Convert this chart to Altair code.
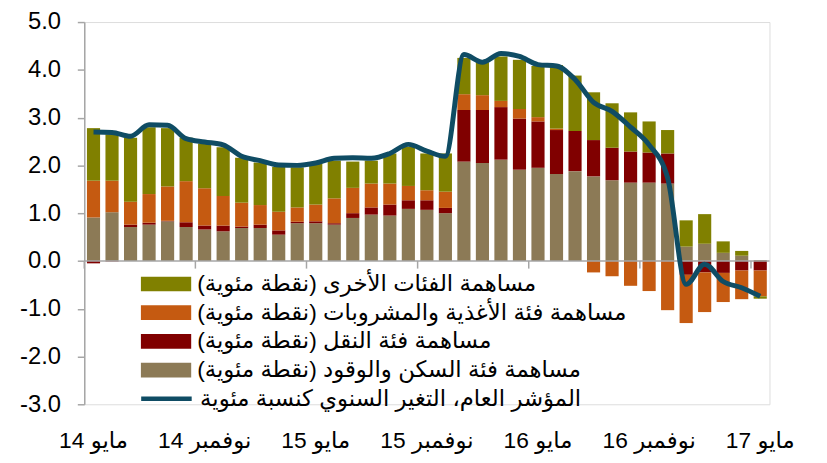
import altair as alt
import pandas as pd

# ---------------- data ----------------
month_names = ["يناير", "فبراير", "مارس", "أبريل", "مايو", "يونيو",
               "يوليو", "أغسطس", "سبتمبر", "أكتوبر", "نوفمبر", "ديسمبر"]
months = []
_y, _m = 14, 4
for _i in range(37):
    months.append(f"{month_names[_m]} {_y}")
    _m += 1
    if _m == 12:
        _m, _y = 0, _y + 1
shown_labels = months[::6]

housing = [0.91, 1.02, 0.71, 0.76, 0.83, 0.71, 0.66, 0.62, 0.69, 0.69, 0.55, 0.79,
           0.79, 0.76, 0.90, 0.97, 0.95, 1.09, 1.07, 1.00, 2.08, 2.05, 2.12, 1.91,
           1.95, 1.82, 1.88, 1.77, 1.69, 1.64, 1.64, 1.62, 0.30, 0.36, 0.17, 0.11, 0.02]
transport = [-0.05, -0.01, 0.05, 0.04, 0.01, 0.10, 0.08, 0.12, 0.03, 0.07, 0.09, 0.03,
             0.04, 0.03, 0.10, 0.15, 0.23, 0.18, 0.20, 0.11, 1.08, 1.11, 1.10, 1.07,
             0.97, 0.92, 0.84, 0.76, 0.68, 0.65, 0.63, 0.63, -0.29, -0.24, -0.25, -0.20, -0.20]
food = [0.77, 0.66, 0.48, 0.60, 0.72, 0.86, 0.78, 0.62, 0.50, 0.41, 0.39, 0.30,
        0.35, 0.52, 0.53, 0.50, 0.44, 0.30, 0.21, 0.34, 0.33, 0.31, 0.13, 0.20,
        0.09, 0.03, 0.00, -0.24, -0.32, -0.52, -0.63, -1.03, -1.01, -0.83, -0.61, -0.60, -0.54]
other = [1.10, 0.97, 1.34, 1.40, 1.22, 0.91, 0.94, 1.02, 0.94, 0.89, 0.94, 0.84,
         0.87, 0.79, 0.55, 0.48, 0.63, 0.82, 0.77, 0.80, 0.76, 0.69, 0.93, 1.03,
         1.07, 1.33, 1.16, 1.00, 0.93, 0.82, 0.65, 0.49, 0.55, 0.62, 0.24, 0.10, -0.05]
cpi = [2.70, 2.69, 2.61, 2.85, 2.84, 2.56, 2.49, 2.43, 2.19, 2.10, 2.01, 2.00,
       2.05, 2.15, 2.16, 2.15, 2.25, 2.44, 2.30, 2.19, 4.32, 4.16, 4.34, 4.28,
       4.11, 4.08, 3.80, 3.32, 3.13, 2.80, 2.43, 1.74, -0.49, -0.07, -0.43, -0.56, -0.74]

RLM = "\u200f"
S_OTHER = "مساهمة الفئات الأخرى (نقطة مئوية)" + RLM
S_FOOD = "مساهمة فئة الأغذية والمشروبات (نقطة مئوية)" + RLM
S_TRANS = "مساهمة فئة النقل (نقطة مئوية)" + RLM
S_HOUSE = "مساهمة فئة السكن والوقود (نقطة مئوية)" + RLM
S_LINE = "المؤشر العام، التغير السنوي كنسبة مئوية" + RLM

series_names = [S_OTHER, S_FOOD, S_TRANS, S_HOUSE]
series_colors = ["#808000", "#C55A11", "#800000", "#8C7A56"]
stack_order = {S_HOUSE: 0, S_TRANS: 1, S_FOOD: 2, S_OTHER: 3}
series_values = {S_HOUSE: housing, S_TRANS: transport, S_FOOD: food, S_OTHER: other}

rows = []
for name, vals in series_values.items():
    for mo, v in zip(months, vals):
        rows.append({"month": mo, "series": name, "value": v, "ord": stack_order[name]})
bar_df = pd.DataFrame(rows)
line_df = pd.DataFrame({"month": months, "cpi": cpi, "series": S_LINE})
zero_df = pd.DataFrame({"v": [0.0]})
tick_df = pd.DataFrame({"month": shown_labels, "t0": 0.0, "t1": -0.16})

FONT = "Liberation Sans, Arial, DejaVu Sans"
AX = "#A6A6A6"

x_enc = alt.X(
    "month:N",
    scale=alt.Scale(domain=months, paddingInner=0.29, paddingOuter=0.145),
    axis=alt.Axis(values=shown_labels, title=None, domain=False, ticks=False,
                  labelAngle=0, labelFontSize=23, labelPadding=26,
                  labelColor="black", labelFont=FONT, labelOverlap=False),
)

y_enc = alt.Y(
    "value:Q",
    stack="zero",
    scale=alt.Scale(domain=[-3, 5], nice=False, zero=False),
    axis=alt.Axis(values=[-3, -2, -1, 0, 1, 2, 3, 4, 5], title=None, grid=False,
                  domainColor=AX, domainWidth=1.5, tickColor=AX, tickWidth=1.5,
                  tickSize=7, labelPadding=17, labelFontSize=24, labelColor="black",
                  labelFont=FONT,
                  labelExpr="replace(format(datum.value, '.1f'), '\u2212', '-')"),
)

bars = alt.Chart(bar_df).mark_bar().encode(
    x=x_enc,
    y=y_enc,
    fill=alt.Fill(
        "series:N",
        scale=alt.Scale(domain=series_names, range=series_colors),
        legend=alt.Legend(title=None, orient="none", legendX=57, legendY=250,
                          symbolType="M-1,-0.29H1V0.29H-1Z", symbolSize=2601,
                          symbolStrokeWidth=0, labelFontSize=23, labelLimit=800,
                          labelFont=FONT, labelColor="black", labelOffset=6,
                          clipHeight=29, rowPadding=0, padding=0),
    ),
    order=alt.Order("ord:Q"),
)

zero_line = alt.Chart(zero_df).mark_rule(color=AX, strokeWidth=1.5).encode(
    y=alt.Y("v:Q")
)

x_ticks = alt.Chart(tick_df).mark_rule(color=AX, strokeWidth=1.5, xOffset=-2.7).encode(
    x=alt.X("month:N", bandPosition=0),
    y=alt.Y("t0:Q"),
    y2="t1:Q",
)

line = alt.Chart(line_df).mark_line(strokeWidth=5, interpolate="monotone").encode(
    x=alt.X("month:N"),
    y=alt.Y("cpi:Q"),
    stroke=alt.Stroke(
        "series:N",
        scale=alt.Scale(domain=[S_LINE], range=["#0F4C64"]),
        legend=alt.Legend(title=None, orient="none", legendX=55, legendY=366,
                          symbolType="stroke", symbolSize=2601, symbolStrokeWidth=4.5,
                          labelFontSize=23, labelLimit=800, labelFont=FONT,
                          labelColor="black", labelOffset=6, clipHeight=29, padding=0),
    ),
)

chart = alt.layer(bars, zero_line, x_ticks, line).properties(
    width=692,
    height=386,
    padding={"left": 77, "top": 12, "right": 50, "bottom": 48},
    autosize=alt.AutoSizeParams(type="none"),
).configure_view(stroke=None).configure(font=FONT)

chart.save("out.html", embed_options={"renderer": "svg", "actions": False})
